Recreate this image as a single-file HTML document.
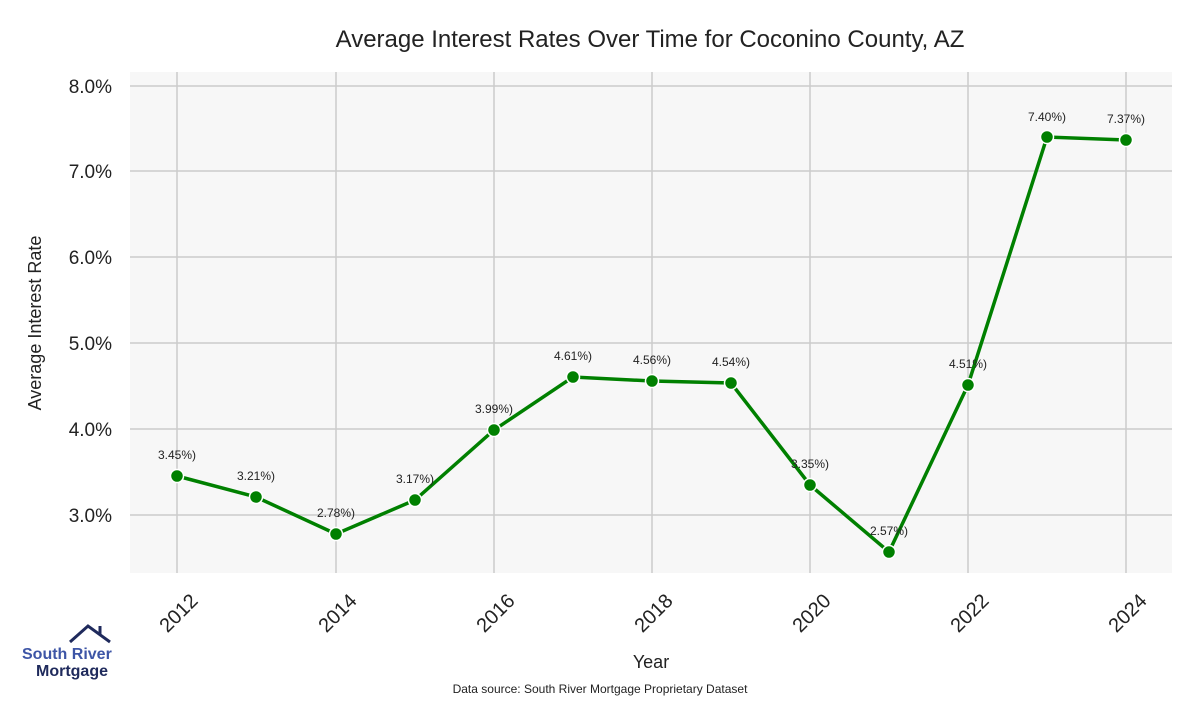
<!DOCTYPE html>
<html><head><meta charset="utf-8"><style>
body{margin:0;background:#fff;}
svg text{font-family:"Liberation Sans",sans-serif;}
</style></head><body>
<svg width="1200" height="700" xmlns="http://www.w3.org/2000/svg">
<rect x="130" y="72" width="1042" height="501" fill="#f7f7f7"/>
<g stroke="#cccccc" stroke-width="1.5">
<line x1="130" x2="1172" y1="86" y2="86"/>
<line x1="130" x2="1172" y1="171" y2="171"/>
<line x1="130" x2="1172" y1="257" y2="257"/>
<line x1="130" x2="1172" y1="343" y2="343"/>
<line x1="130" x2="1172" y1="429" y2="429"/>
<line x1="130" x2="1172" y1="515" y2="515"/>
<line x1="177" x2="177" y1="72" y2="573"/>
<line x1="336" x2="336" y1="72" y2="573"/>
<line x1="494" x2="494" y1="72" y2="573"/>
<line x1="652" x2="652" y1="72" y2="573"/>
<line x1="810" x2="810" y1="72" y2="573"/>
<line x1="968" x2="968" y1="72" y2="573"/>
<line x1="1126" x2="1126" y1="72" y2="573"/>
</g>
<text x="650" y="47" font-size="24" text-anchor="middle" fill="#222">Average Interest Rates Over Time for Coconino County, AZ</text>
<g font-size="19" fill="#222" text-anchor="end">
<text x="112" y="93">8.0%</text><text x="112" y="178">7.0%</text><text x="112" y="264">6.0%</text>
<text x="112" y="350">5.0%</text><text x="112" y="436">4.0%</text><text x="112" y="522">3.0%</text>
</g>
<text transform="translate(41,323) rotate(-90)" font-size="18" text-anchor="middle" fill="#222">Average Interest Rate</text>
<g font-size="20" fill="#222" text-anchor="end">
<text transform="translate(199,602) rotate(-45)">2012</text>
<text transform="translate(358,602) rotate(-45)">2014</text>
<text transform="translate(516,602) rotate(-45)">2016</text>
<text transform="translate(674,602) rotate(-45)">2018</text>
<text transform="translate(832,602) rotate(-45)">2020</text>
<text transform="translate(990,602) rotate(-45)">2022</text>
<text transform="translate(1148,602) rotate(-45)">2024</text>
</g>
<text x="651" y="668" font-size="18" text-anchor="middle" fill="#222">Year</text>
<text x="600" y="693" font-size="12" text-anchor="middle" fill="#222">Data source: South River Mortgage Proprietary Dataset</text>
<polyline fill="none" stroke="#008000" stroke-width="3.5" points="177,476 256,497 336,534 415,500 494,430 573,377 652,381 731,383 810,485 889,552 968,385 1047,137 1126,140"/>
<g fill="#008000" stroke="#fff" stroke-width="1.5">
<circle cx="177" cy="476" r="6.5"/><circle cx="256" cy="497" r="6.5"/><circle cx="336" cy="534" r="6.5"/>
<circle cx="415" cy="500" r="6.5"/><circle cx="494" cy="430" r="6.5"/><circle cx="573" cy="377" r="6.5"/>
<circle cx="652" cy="381" r="6.5"/><circle cx="731" cy="383" r="6.5"/><circle cx="810" cy="485" r="6.5"/>
<circle cx="889" cy="552" r="6.5"/><circle cx="968" cy="385" r="6.5"/><circle cx="1047" cy="137" r="6.5"/>
<circle cx="1126" cy="140" r="6.5"/>
</g>
<g font-size="12" fill="#222" text-anchor="middle">
<text x="177" y="459">3.45%)</text><text x="256" y="480">3.21%)</text><text x="336" y="517">2.78%)</text>
<text x="415" y="483">3.17%)</text><text x="494" y="413">3.99%)</text><text x="573" y="360">4.61%)</text>
<text x="652" y="364">4.56%)</text><text x="731" y="366">4.54%)</text><text x="810" y="468">3.35%)</text>
<text x="889" y="535">2.57%)</text><text x="968" y="368">4.51%)</text><text x="1047" y="121">7.40%)</text>
<text x="1126" y="123">7.37%)</text>
</g>
<polyline fill="none" stroke="#1f2a5c" stroke-width="3" points="70,642 88,626 110,642"/>
<line x1="100" y1="626" x2="100" y2="634" stroke="#1f2a5c" stroke-width="3"/>
<text x="22" y="659" font-size="16" font-weight="bold" fill="#3d55a6">South River</text>
<text x="36" y="676" font-size="16" font-weight="bold" fill="#1f2a5c">Mortgage</text>
</svg>
</body></html>
